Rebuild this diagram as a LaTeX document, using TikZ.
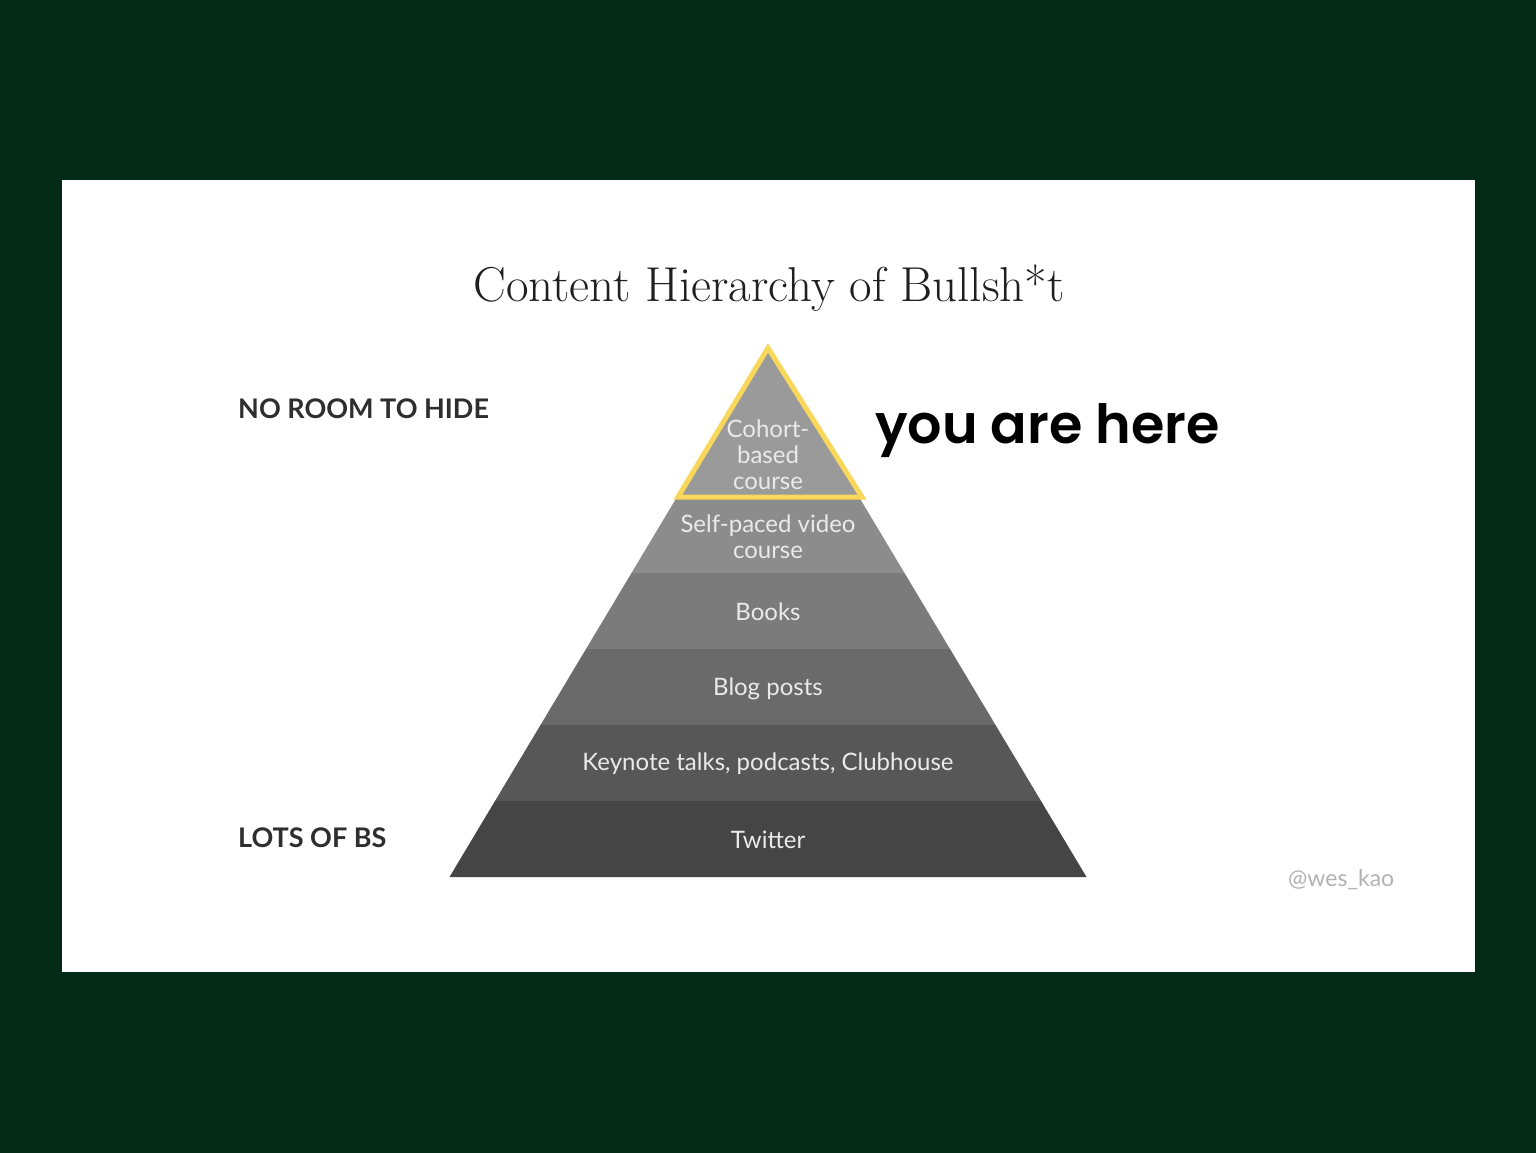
\documentclass[tikz,border=0pt]{standalone}
\usepackage{fontspec}
\setmainfont{Latin Modern Roman}
\newfontfamily\labelfont{Lato}
\newfontfamily\herefont{Poppins}[UprightFont=*-SemiBold]
\definecolor{bgdark}{HTML}{032A17}
\definecolor{hiyellow}{HTML}{F8D75A}
\definecolor{lay1}{HTML}{9A9A9A}
\definecolor{lay2}{HTML}{8C8C8C}
\definecolor{lay3}{HTML}{7B7B7B}
\definecolor{lay4}{HTML}{6A6A6A}
\definecolor{lay5}{HTML}{575757}
\definecolor{lay6}{HTML}{454545}
\definecolor{laytext}{HTML}{EAEAEA}
\definecolor{sidetext}{HTML}{2E2E2E}
\begin{document}
\begin{tikzpicture}[x=1pt,y=-1pt,
  laylabel/.style={text=laytext,font=\labelfont\fontsize{24}{26}\selectfont,align=center,inner sep=0pt},
  sidelabel/.style={text=sidetext,font=\labelfont\bfseries\fontsize{27}{30}\selectfont,anchor=west,inner sep=0pt}]
\useasboundingbox (0,0) rectangle (1536,1153);
\fill[bgdark] (0,0) rectangle (1536,1153);
\fill[white] (62,180) rectangle (1475,972);
% layers
\fill[lay1] (768,345) -- (859.6,498) -- (676.4,498) -- cycle;
\fill[lay2] (676.4,498) -- (859.6,498) -- (904.5,573) -- (631.5,573) -- cycle;
\fill[lay3] (631.5,573) -- (904.5,573) -- (950.0,649) -- (586.0,649) -- cycle;
\fill[lay4] (586.0,649) -- (950.0,649) -- (995.5,725) -- (540.5,725) -- cycle;
\fill[lay5] (540.5,725) -- (995.5,725) -- (1041.0,801) -- (495.0,801) -- cycle;
\fill[lay6] (495.0,801) -- (1041.0,801) -- (1086.5,877) -- (449.5,877) -- cycle;
% highlight
\draw[hiyellow,line width=5pt,line join=miter] (768,348) -- (862,497) -- (678,497) -- cycle;
% title
\node[text=black!88,font=\fontsize{49}{53}\selectfont,inner sep=0pt] (title) at (769,288) {Content Hierarchy of Bullsh*t};
% layer labels
\node[laylabel] (l1) at (768,455) {Cohort-\\based\\course};
\node[laylabel] (l2) at (768,537) {Self-paced video\\course};
\node[laylabel] (l3) at (768,612) {Books};
\node[laylabel] (l4) at (768,689) {Blog posts};
\node[laylabel] (l5) at (768,764) {Keynote talks, podcasts, Clubhouse};
\node[laylabel] (l6) at (768,840) {Twitter};
% side labels
\node[sidelabel] (top) at (238,409) {NO ROOM TO HIDE};
\node[sidelabel] (bottom) at (238,838) {LOTS OF BS};
\node[font=\herefont\fontsize{54}{60}\selectfont,text=black,anchor=west,inner sep=0pt] (here) at (875,431) {you are here};
\node[font=\labelfont\fontsize{23}{26}\selectfont,text=black!30,anchor=west,inner sep=0pt] (credit) at (1288,880) {@wes\_kao};
\end{tikzpicture}
\end{document}
